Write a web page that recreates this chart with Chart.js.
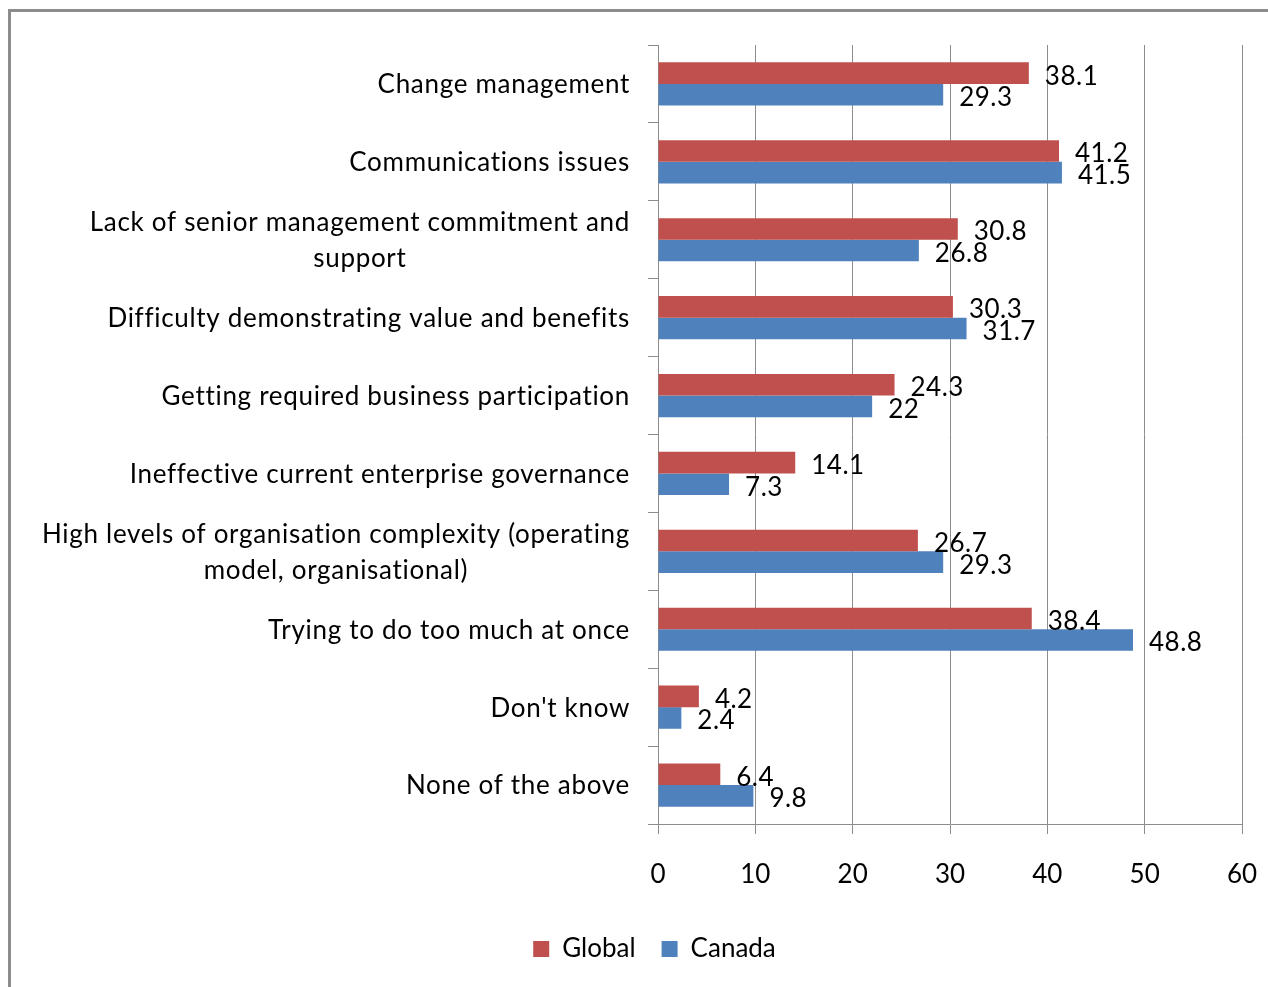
<!DOCTYPE html>
<html>
<head>
<meta charset="utf-8">
<title>Challenges</title>
<script src="https://cdn.jsdelivr.net/npm/chart.js@4/dist/chart.umd.min.js"></script>
<style>
  html, body { margin: 0; padding: 0; background: #fff; overflow: hidden; }
  #frame {
    position: absolute; left: 8px; top: 9px;
    width: 1400px; height: 1100px;
    border: 3px solid #8c8c8c; box-sizing: border-box;
  }
  #c { position: absolute; left: 0; top: 0; }
</style>
</head>
<body>
<div id="frame"></div>
<canvas id="c" width="1268" height="987"></canvas>
<script>
// Categories (wrapped ones are given as lines)
const categories = [
  'Change management',
  'Communications issues',
  ['Lack of senior management commitment and', 'support'],
  'Difficulty demonstrating value and benefits',
  'Getting required business participation',
  'Ineffective current enterprise governance',
  ['High levels of organisation complexity (operating', 'model, organisational)'],
  'Trying to do too much at once',
  "Don't know",
  'None of the above'
];

const globalValues = [38.1, 41.2, 30.8, 30.3, 24.3, 14.1, 26.7, 38.4, 4.2, 6.4];
const canadaValues = [29.3, 41.5, 26.8, 31.7, 22, 7.3, 29.3, 48.8, 2.4, 9.8];

const seriesNames = ['Global', 'Canada'];

const xMin = 0;
const xMax = 60;
const xStep = 10;

const FONT_FAMILY = 'Lato, "Open Sans", sans-serif';
const GRID = '#8c8c8c';

// Value written just past the end of each bar
const valueLabels = {
  id: 'valueLabels',
  afterDatasetsDraw(chart) {
    const ctx = chart.ctx;
    ctx.save();
    ctx.font = '26px ' + FONT_FAMILY;
    ctx.letterSpacing = '0.5px';
    ctx.fillStyle = '#000';
    ctx.textAlign = 'left';
    ctx.textBaseline = 'middle';
    chart.data.datasets.forEach((ds, di) => {
      chart.getDatasetMeta(di).data.forEach((bar, i) => {
        ctx.fillText(String(ds.data[i]), bar.x + 16, bar.y + 3);
      });
    });
    ctx.restore();
  }
};

// Category names: block right-aligned to the axis, lines centred within the block
const categoryLabels = {
  id: 'categoryLabels',
  afterDraw(chart) {
    const ctx = chart.ctx;
    const y = chart.scales.y;
    const rightEdge = y.right - 28;
    const lineGap = 36;
    ctx.save();
    ctx.font = '26px ' + FONT_FAMILY;
    ctx.letterSpacing = '0.7px';
    ctx.fillStyle = '#000';
    ctx.textAlign = 'center';
    ctx.textBaseline = 'middle';
    chart.data.labels.forEach((label, i) => {
      const lines = Array.isArray(label) ? label : [label];
      const widest = Math.max(...lines.map(l => ctx.measureText(l).width));
      const cx = rightEdge - widest / 2;
      const cy = y.getPixelForValue(i) + 1;
      const top = cy - (lines.length - 1) * lineGap / 2;
      lines.forEach((line, k) => ctx.fillText(line, cx, top + k * lineGap));
    });
    ctx.restore();
  }
};

new Chart(document.getElementById('c'), {
  type: 'bar',
  data: {
    labels: categories,
    datasets: [
      { label: seriesNames[0], data: globalValues, backgroundColor: '#C0504D', borderWidth: 0 },
      { label: seriesNames[1], data: canadaValues, backgroundColor: '#4F81BD', borderWidth: 0 }
    ]
  },
  options: {
    indexAxis: 'y',
    responsive: false,
    animation: false,
    events: [],
    layout: { padding: { left: 67, right: 26, top: 45, bottom: 15 } },
    datasets: { bar: { categoryPercentage: 0.555, barPercentage: 1 } },
    scales: {
      x: {
        min: xMin, max: xMax,
        ticks: { stepSize: xStep, color: '#000', padding: 25, font: { family: FONT_FAMILY, size: 26 } },
        grid: { color: GRID, lineWidth: 1, drawTicks: true, tickLength: 10, tickColor: GRID },
        border: { color: GRID, width: 1 },
        afterFit(scale) {
          scale.height = 86;
          scale.paddingLeft = 0;
          scale.paddingRight = 0;
        }
      },
      y: {
        offset: true,
        ticks: { display: false },
        grid: { offset: true, drawOnChartArea: false, drawTicks: true, tickLength: 10, color: GRID },
        border: { color: GRID, width: 1 },
        afterFit(scale) {
          scale.width = 591;
          scale.paddingTop = 0;
          scale.paddingBottom = 0;
        }
      }
    },
    plugins: {
      legend: {
        position: 'bottom',
        labels: {
          boxWidth: 16, boxHeight: 16, padding: 26, color: '#000',
          font: { family: FONT_FAMILY, size: 26 }
        }
      },
      tooltip: { enabled: false }
    }
  },
  plugins: [valueLabels, categoryLabels]
});
</script>
</body>
</html>
